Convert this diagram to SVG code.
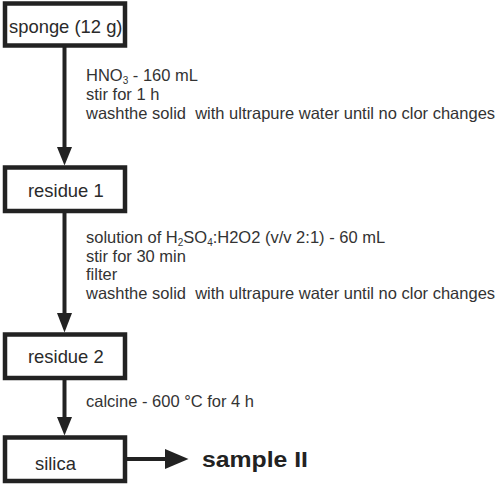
<svg xmlns="http://www.w3.org/2000/svg" width="500" height="485" viewBox="0 0 500 485">
<style>
.box{fill:#fff;stroke:#222;stroke-width:4.5}
.lbl{font-family:"Liberation Sans",Arial,sans-serif;font-size:18.4px;fill:#2a2a2a}
.note{font-family:"Liberation Sans",Arial,sans-serif;font-size:16.5px;fill:#333;white-space:pre}
.sub{font-size:10px}
.edge{stroke:#222;stroke-width:4;fill:none}
.head{fill:#222}
</style>
<rect width="500" height="485" fill="#fff"/>
<g id="connectors">
<line class="edge" x1="64.5" y1="46" x2="64.5" y2="150"/>
<polygon class="head" points="57,147 72,147 64.5,165.5"/>
<line class="edge" x1="64.5" y1="212" x2="64.5" y2="316"/>
<polygon class="head" points="57,313 72,313 64.5,332.5"/>
<line class="edge" x1="64.5" y1="379" x2="64.5" y2="420"/>
<polygon class="head" points="57,417 72,417 64.5,435.5"/>
<line class="edge" x1="126" y1="459" x2="168" y2="459"/>
<polygon class="head" points="165,449 165,469 188.5,459"/>
</g>
<g id="sponge">
<rect class="box" x="5" y="3.5" width="120" height="42"/>
<text class="lbl" x="9" y="33">sponge (12 g)</text>
</g>
<g id="step1">
<text class="note" x="86" y="81">HNO<tspan class="sub" dy="3">3</tspan><tspan dy="-3"> - 160 mL</tspan></text>
<text class="note" x="86" y="100">stir for 1 h</text>
<text class="note" x="86" y="119">washthe solid &#160;with ultrapure water until no clor changes</text>
</g>
<g id="residue1">
<rect class="box" x="5" y="167.5" width="120" height="43.5"/>
<text class="lbl" x="28" y="197">residue 1</text>
</g>
<g id="step2">
<text class="note" x="86" y="243">solution of H<tspan class="sub" dy="3">2</tspan><tspan dy="-3">SO</tspan><tspan class="sub" dy="3">4</tspan><tspan dy="-3">:H2O2 (v/v 2:1) - 60 mL</tspan></text>
<text class="note" x="86" y="261.5">stir for 30 min</text>
<text class="note" x="86" y="280">filter</text>
<text class="note" x="86" y="298.5">washthe solid &#160;with ultrapure water until no clor changes</text>
</g>
<g id="residue2">
<rect class="box" x="5" y="334.5" width="120" height="43.5"/>
<text class="lbl" x="28" y="363">residue 2</text>
</g>
<g id="step3">
<text class="note" x="86" y="407">calcine - 600 °C for 4 h</text>
</g>
<g id="silica">
<rect class="box" x="5" y="437.5" width="120" height="43.5"/>
<text class="lbl" x="35" y="470">silica</text>
</g>
<g id="sample">
<text x="202" y="467" font-family="Liberation Sans,Arial,sans-serif" font-weight="bold" font-size="22" fill="#222" textLength="106" lengthAdjust="spacingAndGlyphs">sample II</text>
</g>
</svg>
